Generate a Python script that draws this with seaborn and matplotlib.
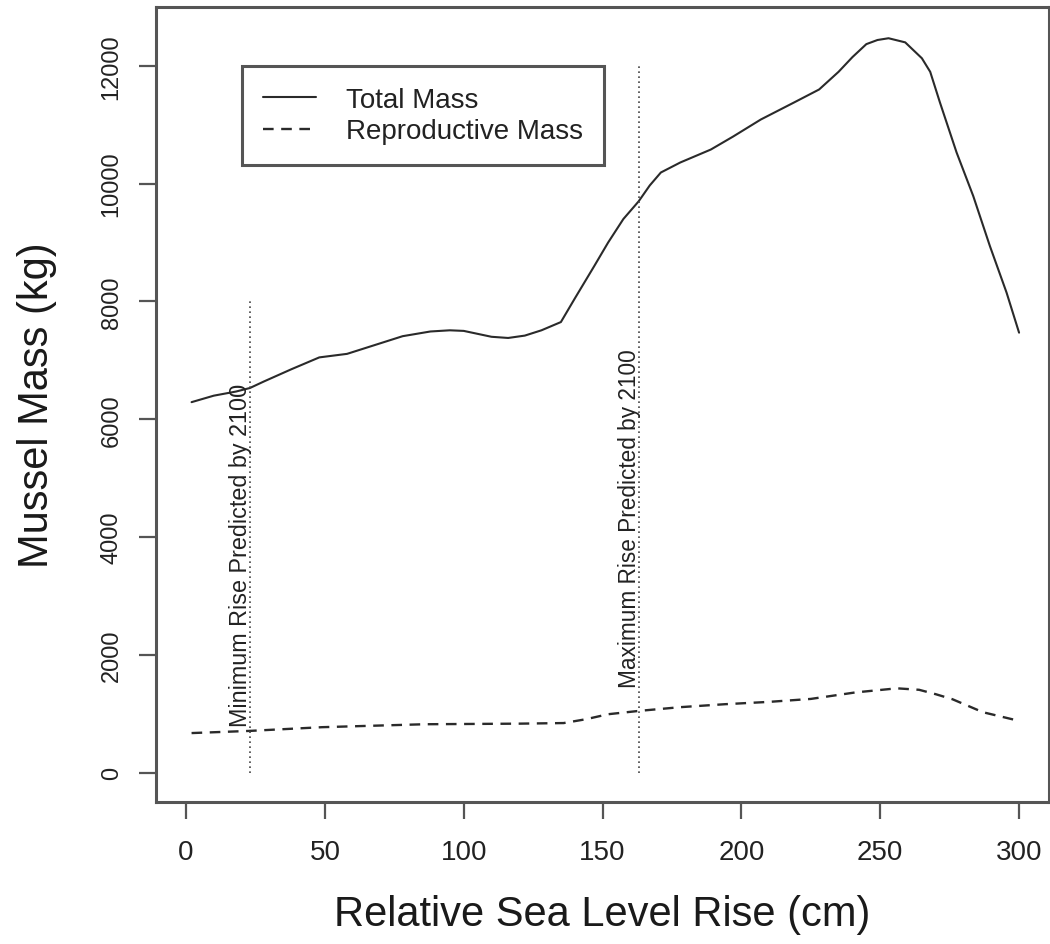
import pandas as pd
import matplotlib
matplotlib.use('Agg')
import matplotlib.pyplot as plt
import seaborn as sns

# values
total_x = [2, 10, 18, 23, 28, 38, 48, 58, 68, 78, 88, 95, 100, 105, 110, 116, 122, 128, 135,
           140, 147, 152, 157.5, 163, 167, 171, 178, 189, 197, 207, 219, 228, 235, 240, 245,
           249, 253, 259, 265, 268, 271.5, 277.5, 283.5, 289.5, 295.5, 300]
total_mass = [6290, 6400, 6470, 6530, 6640, 6850, 7050, 7110, 7260, 7410, 7490, 7510, 7500, 7450,
              7400, 7380, 7420, 7510, 7650, 8050, 8600, 9000, 9400, 9700, 9970, 10190, 10360,
              10580, 10800, 11090, 11380, 11600, 11900, 12150, 12370, 12440, 12470, 12400,
              12130, 11900, 11380, 10530, 9790, 8940, 8150, 7470]

repro_x = [2, 23, 49, 86, 120, 136, 144, 152, 163, 178, 194, 210, 225, 241, 256, 264, 270, 276, 287, 300]
repro_mass = [670, 707, 770, 820, 830, 840, 905, 990, 1046, 1110, 1160, 1200, 1250, 1360, 1430,
              1405, 1330, 1245, 1024, 877]

min_rise = 23
max_rise = 163
min_top = 8000
max_top = 12000

df_total = pd.DataFrame({'rise': total_x, 'mass': total_mass})
df_repro = pd.DataFrame({'rise': repro_x, 'mass': repro_mass})

sns.set_style('ticks')
plt.rcParams['font.family'] = ['Liberation Sans', 'DejaVu Sans']

fig = plt.figure(figsize=(10.5, 9.45), dpi=100)
ax = fig.add_axes([0.1486, 0.1503, 0.8505, 0.8412])

line_col = '#2a2a2a'
sns.lineplot(data=df_total, x='rise', y='mass', ax=ax, color=line_col, lw=1.5,
             label='Total Mass', sort=False)
sns.lineplot(data=df_repro, x='rise', y='mass', ax=ax, color=line_col, lw=1.7,
             label='Reproductive Mass', sort=False, linestyle=(0, (4.5, 3.2)))

ax.plot([min_rise, min_rise], [0, min_top], color='#444444', lw=1.2, linestyle=(0, (1, 2)))
ax.plot([max_rise, max_rise], [0, max_top], color='#444444', lw=1.2, linestyle=(0, (1, 2)))
ax.text(min_rise - 3.3, 785, 'Minimum Rise Predicted by 2100', rotation=90,
        ha='center', va='bottom', fontsize=16.8, color='#222222')
ax.text(max_rise - 3.4, 1450, 'Maximum Rise Predicted by 2100', rotation=90,
        ha='center', va='bottom', fontsize=16.3, color='#222222')

ax.set_xlim(-10.8, 310.8)
ax.set_ylim(-500, 13000)
ax.set_xticks([0, 50, 100, 150, 200, 250, 300])
ax.set_yticks([0, 2000, 4000, 6000, 8000, 10000, 12000])

for s in ax.spines.values():
    s.set_color('#555555')
    s.set_linewidth(2.2)

ax.tick_params(axis='both', length=12, width=1.6, color='#555555', labelcolor='#222222')
ax.tick_params(axis='x', labelsize=20, pad=15)
ax.tick_params(axis='y', labelsize=17, pad=12, labelrotation=90)
for lab in ax.get_yticklabels():
    lab.set_va('center')

ax.set_xlabel('Relative Sea Level Rise (cm)', fontsize=30, color='#1a1a1a')
ax.set_ylabel('Mussel Mass (kg)', fontsize=30, color='#1a1a1a')
ax.xaxis.set_label_coords(0.5, -0.141)
ax.xaxis.label.set_va('center')
ax.yaxis.set_label_coords(-0.133, 0.5)
ax.yaxis.label.set_va('center')

leg = ax.legend(loc='upper left', bbox_to_anchor=(0.0963, 0.926), borderaxespad=0,
                fontsize=20, frameon=True, fancybox=False, handlelength=1.9,
                handletextpad=1.1, labelspacing=0.2, borderpad=0.75)
leg.get_frame().set_edgecolor('#555555')
leg.get_frame().set_linewidth(2.2)
leg.get_frame().set_alpha(1)
for t in leg.get_texts():
    t.set_color('#222222')

fig.savefig('out.png', dpi=100)
